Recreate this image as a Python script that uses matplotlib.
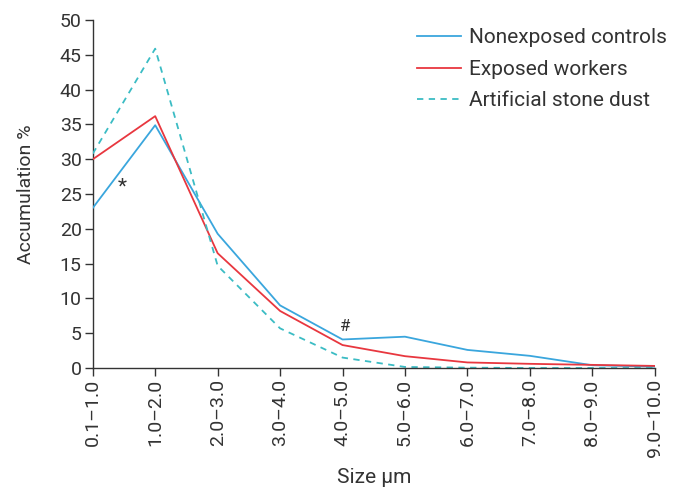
import matplotlib
matplotlib.use("Agg")
import matplotlib.pyplot as plt

categories = ["0.1–1.0", "1.0–2.0", "2.0–3.0", "3.0–4.0", "4.0–5.0",
              "5.0–6.0", "6.0–7.0", "7.0–8.0", "8.0–9.0", "9.0–10.0"]
nonexposed = [23.0, 34.9, 19.3, 9.0, 4.1, 4.5, 2.6, 1.75, 0.4, 0.2]
exposed = [30.0, 36.2, 16.5, 8.2, 3.3, 1.7, 0.8, 0.6, 0.45, 0.3]
stone_dust = [30.8, 45.9, 14.7, 5.7, 1.5, 0.15, 0.05, 0.0, 0.0, 0.0]
yticks = [0, 5, 10, 15, 20, 25, 30, 35, 40, 45, 50]

plt.rcParams['font.family'] = ['Roboto', 'DejaVu Sans']

fig = plt.figure(figsize=(6.82, 4.91), dpi=100)
ax = fig.add_axes([0.136, 0.2505, 0.824, 0.7085])

x = list(range(len(categories)))
ax.plot(x, nonexposed, color="#3aa6dd", lw=1.3, label="Nonexposed controls")
ax.plot(x, exposed, color="#e8373f", lw=1.3, label="Exposed workers")
ax.plot(x, stone_dust, color="#3bbcc4", lw=1.3, ls=(0, (3.5, 3)), label="Artificial stone dust")

ax.text(0.48, 26, "*", fontsize=15, ha="center", va="center", color="#333333")
ax.text(4.04, 5.9, "#", fontsize=12, ha="center", va="center", color="#333333")

ax.set_xlim(0, 9)
ax.set_ylim(0, 50)
ax.set_xticks(x)
ax.set_xticklabels(categories, rotation=90, fontsize=14, color="#333333")
ax.set_yticks(yticks)
ax.set_yticklabels([str(v) for v in yticks], fontsize=14, color="#333333")
ax.tick_params(axis="both", direction="out", length=6, width=1, color="#333333", pad=2)
for s in ["top", "right"]:
    ax.spines[s].set_visible(False)
for s in ["left", "bottom"]:
    ax.spines[s].set_color("#333333")
    ax.spines[s].set_linewidth(1)
ax.spines["left"].set_zorder(0)

ax.set_xlabel("Size µm", fontsize=15, color="#333333", labelpad=8)
ax.set_ylabel("Accumulation %", fontsize=14, color="#333333", labelpad=18)

leg = fig.legend(*ax.get_legend_handles_labels(), loc="upper right", frameon=False,
                 fontsize=15, handlelength=2.1, handletextpad=0.4, labelspacing=0.6,
                 borderpad=0, borderaxespad=0, bbox_to_anchor=(0.978, 0.942))
for t in leg.get_texts():
    t.set_color("#333333")

fig.savefig("out.png", dpi=100)
